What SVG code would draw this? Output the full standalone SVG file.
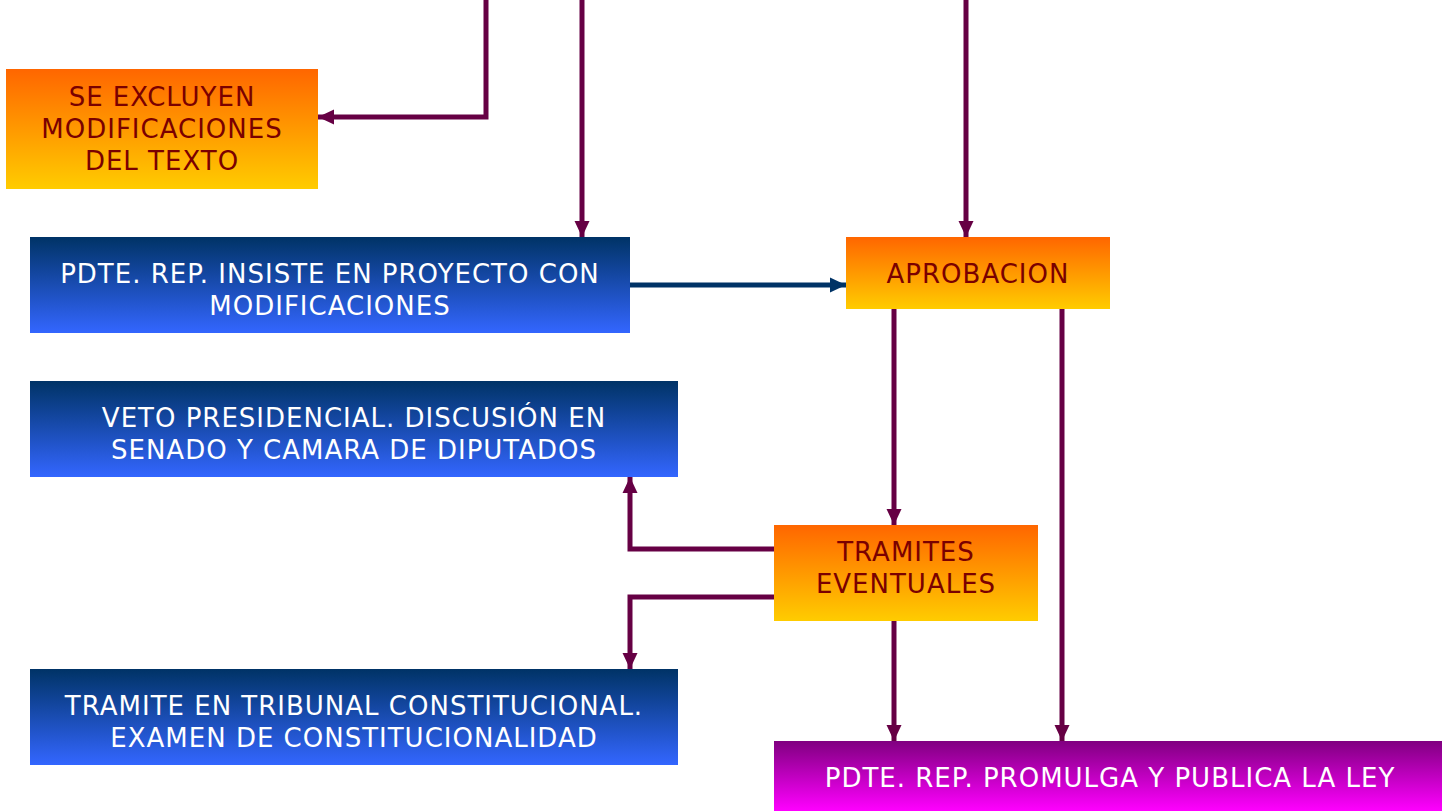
<svg xmlns="http://www.w3.org/2000/svg" width="1442" height="811" viewBox="0 0 1442 811">
<style>
.t{font-family:"DejaVu Sans","Liberation Sans",sans-serif;font-size:26px;letter-spacing:1px;text-anchor:middle}
.o{fill:#7a0000}
.w{fill:#ffffff}
.c{fill:none;stroke:#660044;stroke-width:5}
.b{fill:none;stroke:#003366;stroke-width:5}
</style>
<defs>
<linearGradient id="og" x1="0" y1="0" x2="0" y2="1"><stop offset="0" stop-color="#ff6600"/><stop offset="1" stop-color="#ffcc00"/></linearGradient>
<linearGradient id="bg" x1="0" y1="0" x2="0" y2="1"><stop offset="0" stop-color="#003366"/><stop offset="1" stop-color="#3366ff"/></linearGradient>
<linearGradient id="pg" x1="0" y1="0" x2="0" y2="1"><stop offset="0" stop-color="#800080"/><stop offset="1" stop-color="#ff00ff"/></linearGradient>
<marker id="a" markerUnits="userSpaceOnUse" markerWidth="16" markerHeight="16" viewBox="0 0 16 16" refX="16" refY="8" orient="auto"><path d="M0,0.5 L16,8 L0,15.5 Z" fill="#660044"/></marker>
<marker id="ab" markerUnits="userSpaceOnUse" markerWidth="16" markerHeight="16" viewBox="0 0 16 16" refX="16" refY="8" orient="auto"><path d="M0,0.5 L16,8 L0,15.5 Z" fill="#003366"/></marker>
</defs>
<g id="connectors">
<path class="c" d="M486,0 V117 H318" marker-end="url(#a)"/>
<path class="c" d="M582,0 V237" marker-end="url(#a)"/>
<path class="c" d="M966,0 V237" marker-end="url(#a)"/>
<path class="b" d="M630,285 H846" marker-end="url(#ab)"/>
<path class="c" d="M894,309 V525" marker-end="url(#a)"/>
<path class="c" d="M1062,309 V741" marker-end="url(#a)"/>
<path class="c" d="M774,549 H630 V477" marker-end="url(#a)"/>
<path class="c" d="M774,597 H630 V669" marker-end="url(#a)"/>
<path class="c" d="M894,621 V741" marker-end="url(#a)"/>
</g>
<g id="excluyen">
<rect x="6" y="69" width="312" height="120" fill="url(#og)"/>
<text class="t o" x="162" y="106">SE EXCLUYEN</text>
<text class="t o" x="162" y="138">MODIFICACIONES</text>
<text class="t o" x="162" y="170">DEL TEXTO</text>
</g>
<g id="insiste">
<rect x="30" y="237" width="600" height="96" fill="url(#bg)"/>
<text class="t w" x="330" y="283">PDTE. REP. INSISTE EN PROYECTO CON</text>
<text class="t w" x="330" y="315">MODIFICACIONES</text>
</g>
<g id="veto">
<rect x="30" y="381" width="648" height="96" fill="url(#bg)"/>
<text class="t w" x="354" y="427">VETO PRESIDENCIAL. DISCUSIÓN EN</text>
<text class="t w" x="354" y="459">SENADO Y CAMARA DE DIPUTADOS</text>
</g>
<g id="tribunal">
<rect x="30" y="669" width="648" height="96" fill="url(#bg)"/>
<text class="t w" x="354" y="715">TRAMITE EN TRIBUNAL CONSTITUCIONAL.</text>
<text class="t w" x="354" y="747">EXAMEN DE CONSTITUCIONALIDAD</text>
</g>
<g id="aprobacion">
<rect x="846" y="237" width="264" height="72" fill="url(#og)"/>
<text class="t o" x="978" y="283">APROBACION</text>
</g>
<g id="tramites">
<rect x="774" y="525" width="264" height="96" fill="url(#og)"/>
<text class="t o" x="906" y="561">TRAMITES</text>
<text class="t o" x="906" y="593">EVENTUALES</text>
</g>
<g id="promulga">
<rect x="774" y="741" width="668" height="70" fill="url(#pg)"/>
<text class="t w" x="1110" y="787">PDTE. REP. PROMULGA Y PUBLICA LA LEY</text>
</g>
</svg>
